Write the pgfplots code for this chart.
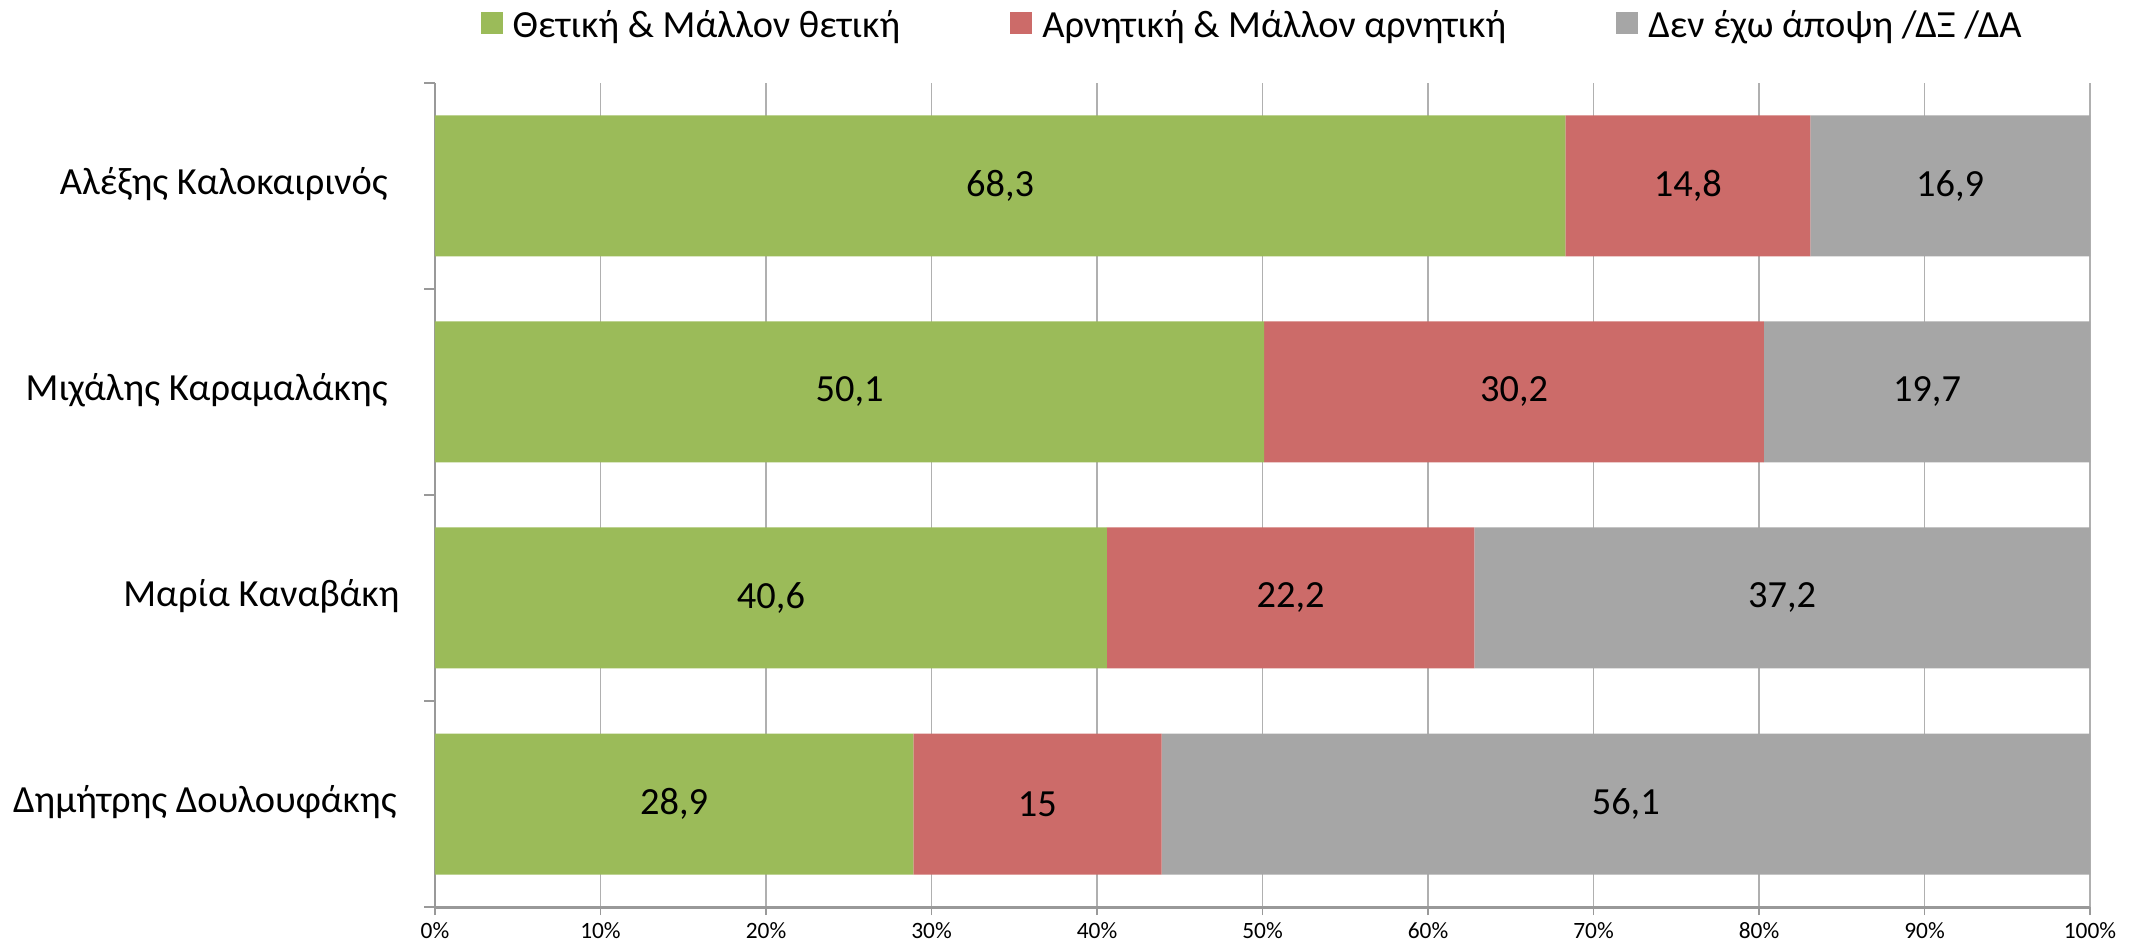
\documentclass[border=0pt]{standalone}
\usepackage{fontspec}
\setmainfont{Carlito}
\usepackage{pgfplots}
\pgfplotsset{compat=1.18}
\definecolor{cgreen}{HTML}{9BBB59}
\definecolor{cred}{HTML}{CC6B69}
\definecolor{cgrey}{HTML}{A6A6A6}
\definecolor{gridc}{HTML}{B0B0B0}
\begin{document}
\begin{tikzpicture}
\useasboundingbox (-217.5bp,-20.5bp) rectangle (854bp,453.5bp);
\begin{axis}[
  at={(0,0)}, anchor=south west,
  scale only axis, width=827.5bp, height=412bp,
  xbar stacked, bar width=70.5bp,
  xmin=0, xmax=100, ymin=-0.5, ymax=3.5,
  axis lines*=left,
  x axis line style={draw=gray!80, line width=1.5bp},
  y axis line style={draw=gray!80, line width=0.6bp},
  xtick={0,10,...,100},
  xticklabels={0\%,10\%,20\%,30\%,40\%,50\%,60\%,70\%,80\%,90\%,100\%},
  xticklabel style={font=\fontsize{11.7bp}{13bp}\selectfont},
  xmajorgrids, major x grid style={draw=gridc, line width=0.6bp},
  ytick={0,1,2,3},
  yticklabels={{Δημήτρης Δουλουφάκης\kern-5.5bp\strut}, {Μαρία Καναβάκη\kern-7bp\strut}, {Μιχάλης Καραμαλάκης\kern-1bp\strut}, {Αλέξης Καλοκαιρινός\kern-1bp\strut}},
  yticklabel style={font=\fontsize{19.2bp}{21bp}\selectfont, anchor=east, inner sep=0pt, xshift=-20.5bp},
  minor ytick={-0.5,0.5,1.5,2.5,3.5},
  major y tick style={draw=none},
  minor y tick style={draw=gray!80, line width=0.6bp},
  major x tick style={draw=gray!80, line width=0.6bp},
  tick align=outside, major tick length=4bp, minor tick length=5.5bp,
  legend style={draw=none, fill=none, legend columns=3, at={(0.4944,1.0704)}, anchor=center,
    font=\fontsize{19.2bp}{21bp}\selectfont,
    /tikz/every even column/.append style={column sep=53bp},
    legend cell align=left},
  legend image code/.code={\draw[#1,draw=none] (0bp,-4.5bp) rectangle (11bp,6.5bp); \path (14bp,0bp);},
]
\addplot[fill=cgreen, draw=none] coordinates {(28.9,0) (40.6,1) (50.1,2) (68.3,3)};
\addplot[fill=cred, draw=none] coordinates {(15,0) (22.2,1) (30.2,2) (14.8,3)};
\addplot[fill=cgrey, draw=none] coordinates {(56.1,0) (37.2,1) (19.7,2) (16.9,3)};
\legend{Θετική \& Μάλλον θετική, Αρνητική \& Μάλλον αρνητική\hspace{10bp}, Δεν έχω άποψη /ΔΞ /ΔΑ}
\end{axis}
\begin{axis}[
  at={(0,0)}, anchor=south west,
  scale only axis, width=827.5bp, height=412bp,
  xmin=0, xmax=100, ymin=-0.5, ymax=3.5, hide axis,
]
\addplot[draw=none, mark=none, nodes near coords, point meta=explicit symbolic,
  nodes near coords style={anchor=center, font=\fontsize{19.2bp}{21bp}\selectfont}]
  table[x=x, y=y, meta=l] {
x y l
14.45 0 28,9
20.3 1 40,6
25.05 2 50,1
34.15 3 68,3
36.4 0 15
51.7 1 22,2
65.2 2 30,2
75.7 3 14,8
71.95 0 56,1
81.4 1 37,2
90.15 2 19,7
91.55 3 16,9
};
\end{axis}
\end{tikzpicture}
\end{document}
